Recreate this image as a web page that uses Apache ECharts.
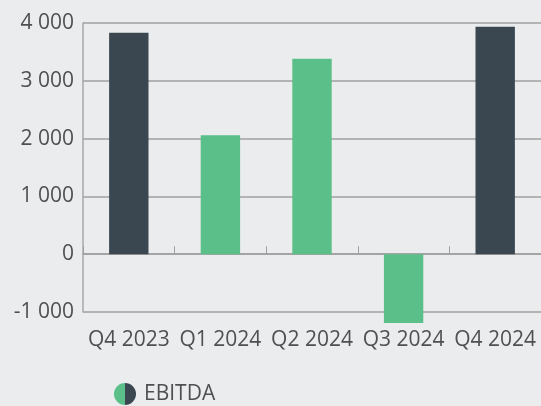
<!DOCTYPE html>
<html><head><meta charset="utf-8">
<script src="https://cdn.jsdelivr.net/npm/echarts@6/dist/echarts.min.js"></script>
<style>html,body{margin:0;padding:0;background:#ebecee;}#c{width:541px;height:406px;}</style>
</head><body><div id="c"></div>
<script>
const categories = ['Q4 2023', 'Q1 2024', 'Q2 2024', 'Q3 2024', 'Q4 2024'];
const ebitda = [3830, 2060, 3380, -1190, 3935];
const highlighted = [true, false, false, false, true];
const yTicks = [-1000, 0, 1000, 2000, 3000, 4000];

const DARK = '#3a4751', GREEN = '#5bbf8a';
const fmt = v => { const s = Math.abs(v).toString().replace(/\B(?=(\d{3})+(?!\d))/g, ' '); return (v < 0 ? '-' : '') + s; };
const FONT = '"Open Sans", sans-serif';
const chart = echarts.init(document.getElementById('c'));
chart.setOption({
  backgroundColor: '#ebecee',
  animation: false,
  grid: { left: 83, width: 461, top: 23, bottom: 94, containLabel: false },
  legend: {
    left: 109, top: 378, itemWidth: 22, itemHeight: 22, itemGap: 6,
    icon: 'circle',
    textStyle: { fontFamily: FONT, fontSize: 21, color: '#505050', padding: [0, 0, 0, 3] },
    data: [{ name: 'EBITDA', itemStyle: { color: new echarts.graphic.LinearGradient(0, 0, 1, 0, [
      { offset: 0, color: GREEN }, { offset: 0.5, color: GREEN }, { offset: 0.5, color: DARK }, { offset: 1, color: DARK }]) } }]
  },
  xAxis: [{
    type: 'category', data: categories, position: 'bottom',
    axisLine: { show: false, onZero: false }, axisTick: { show: false },
    axisLabel: { fontFamily: FONT, fontSize: 21, color: '#505050', margin: 18, interval: 0 }
  }, {
    type: 'category', data: categories, position: 'bottom',
    axisLine: { show: true, onZero: true, lineStyle: { color: '#a0a0a0', width: 1.5 } },
    axisTick: { show: true, inside: true, length: 8, lineStyle: { color: '#a0a0a0' } },
    axisLabel: { show: false }
  }],
  yAxis: {
    type: 'value', min: yTicks[0], max: yTicks[yTicks.length - 1], interval: 1000,
    axisLine: { show: true, lineStyle: { color: '#a8a8a8', width: 1.5 } },
    axisTick: { show: false },
    splitLine: { lineStyle: { color: '#a0a0a0', width: 1.5 } },
    axisLabel: { fontFamily: FONT, fontSize: 21, color: '#505050', margin: 9, formatter: fmt }
  },
  series: [{
    name: 'EBITDA', type: 'bar', barWidth: '43%', clip: false,
    data: ebitda.map((v, i) => ({ value: v, itemStyle: { color: highlighted[i] ? DARK : GREEN } }))
  }]
});
</script></body></html>
